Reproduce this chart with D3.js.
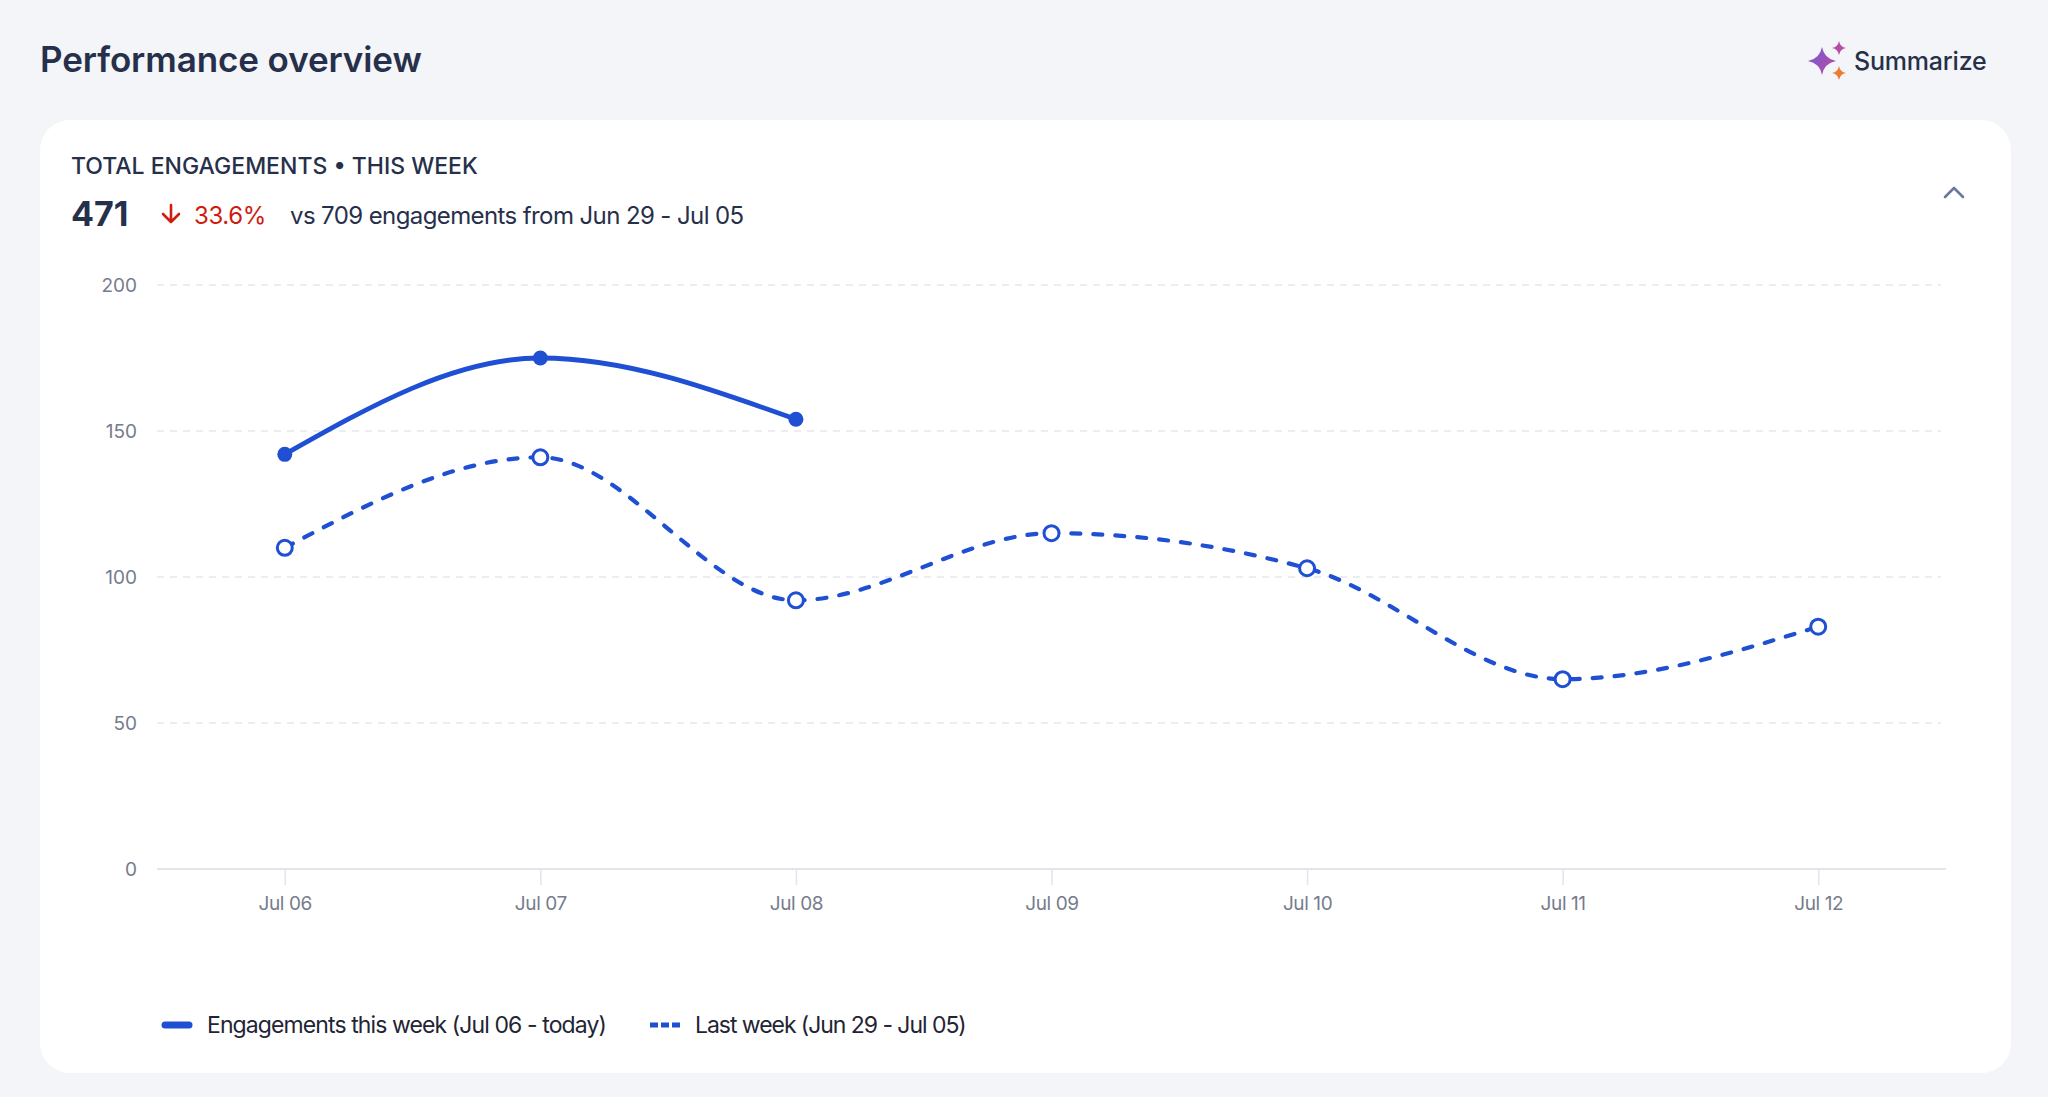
<!DOCTYPE html>
<html>
<head>
<meta charset="utf-8">
<script src="https://cdn.jsdelivr.net/npm/d3@7"></script>
<style>
  html, body { margin: 0; padding: 0; background: #f4f5f9; }
  svg { display: block; }
  text { font-family: Inter, "Noto Sans", sans-serif; }
</style>
</head>
<body>
<svg id="chart" width="2048" height="1097"></svg>
<script>
// ---- data ----
const days = ["Jul 06", "Jul 07", "Jul 08", "Jul 09", "Jul 10", "Jul 11", "Jul 12"];
const thisWeek = [142, 175, 154];
const lastWeek = [110, 141, 92, 115, 103, 65, 83];
const yTicks = [0, 50, 100, 150, 200];
const legendLabels = ["Engagements this week (Jul 06 - today)", "Last week (Jun 29 - Jul 05)"];
const pageTitle = "Performance overview";
const cardTitle = "TOTAL ENGAGEMENTS \u2022 THIS WEEK";
const totalValue = "471";
const changeValue = "33.6%";
const compareText = "vs 709 engagements from Jun 29 - Jul 05";

const BLUE = "#1f4fd3";
const DARK = "#27304a";
const GRAY = "#767c8c";

const svg = d3.select("#chart");
const W = 2048, H = 1097;

svg.append("rect").attr("width", W).attr("height", H).attr("fill", "#f4f5f9");

// page title
svg.append("text").attr("x", 40).attr("y", 72)
  .attr("font-size", 35).attr("font-weight", 600).attr("fill", DARK)
  .attr("letter-spacing", "-0.1").text(pageTitle);

// Summarize button
const defs = svg.append("defs");
const grad = defs.append("linearGradient").attr("id", "sparkGrad")
  .attr("x1", "0%").attr("y1", "0%").attr("x2", "100%").attr("y2", "100%");
grad.append("stop").attr("offset", "0%").attr("stop-color", "#6b5fd8");
grad.append("stop").attr("offset", "100%").attr("stop-color", "#c4469c");

function star(r) {
  const k = r * 0.16;
  return `M0,${-r} Q${k},${-k} ${r},0 Q${k},${k} 0,${r} Q${-k},${k} ${-r},0 Q${-k},${-k} 0,${-r}Z`;
}
svg.append("path").attr("d", star(14)).attr("transform", "translate(1822,61)").attr("fill", "url(#sparkGrad)");
svg.append("path").attr("d", star(7)).attr("transform", "translate(1839,48)").attr("fill", "#b84aa8");
svg.append("path").attr("d", star(7)).attr("transform", "translate(1839,73)").attr("fill", "#ee7b32");
svg.append("text").attr("x", 1854).attr("y", 70)
  .attr("font-size", 25).attr("font-weight", 500).attr("fill", DARK)
  .attr("letter-spacing", "-0.2").text("Summarize");

// card
svg.append("rect").attr("x", 40).attr("y", 120).attr("width", 1971).attr("height", 953)
  .attr("rx", 30).attr("fill", "#ffffff");

// chevron
svg.append("path").attr("d", "M1945,197 L1954,188 L1963,197")
  .attr("fill", "none").attr("stroke", "#6b7899").attr("stroke-width", 2.6)
  .attr("stroke-linecap", "round").attr("stroke-linejoin", "round");

// card header
svg.append("text").attr("x", 71).attr("y", 174)
  .attr("font-size", 23).attr("font-weight", 500).attr("fill", DARK)
  .text(cardTitle);
svg.append("text").attr("x", 71).attr("y", 226)
  .attr("font-size", 34).attr("font-weight", 700).attr("fill", DARK).text(totalValue);
// down arrow
svg.append("path").attr("d", "M171,205 L171,222 M163,214 L171,222 L179,214")
  .attr("fill", "none").attr("stroke", "#cf1b10").attr("stroke-width", 2.6)
  .attr("stroke-linecap", "round").attr("stroke-linejoin", "round");
svg.append("text").attr("x", 194).attr("y", 224)
  .attr("font-size", 24).attr("fill", "#cf1b10").attr("letter-spacing", "-0.4").text(changeValue);
svg.append("text").attr("x", 290).attr("y", 224)
  .attr("font-size", 24).attr("fill", DARK).attr("letter-spacing", "-0.6").text(compareText);

// ---- chart ----
const x = d3.scalePoint().domain(days).range([157, 1946]).padding(0.5);
const y = d3.scaleLinear().domain([0, 200]).range([869, 285]);

const g = svg.append("g");

// grid
g.selectAll(".grid").data(yTicks.filter(d => d > 0)).join("line")
  .attr("x1", 157).attr("x2", 1941)
  .attr("y1", d => y(d)).attr("y2", d => y(d))
  .attr("stroke", "#e5e8ef").attr("stroke-width", 1.5).attr("stroke-dasharray", "7 6");

// y axis labels
const yAxis = d3.axisLeft(y).tickValues(yTicks).tickSize(0).tickPadding(0);
const yg = g.append("g").attr("transform", "translate(137,0)").call(yAxis);
yg.select(".domain").remove();
yg.selectAll("text").attr("font-size", 19).attr("fill", GRAY)
  .attr("font-family", "Inter, sans-serif").attr("dy", "0.35em").attr("x", 0);

// x axis
const xAxis = d3.axisBottom(x).tickSize(16).tickPadding(12);
const xg = g.append("g").attr("transform", "translate(0,869)").call(xAxis);
xg.select(".domain").attr("d", "M157,0H1946").attr("stroke", "#e3e5eb").attr("stroke-width", 2);
xg.selectAll(".tick line").attr("stroke", "#e3e5eb").attr("stroke-width", 1.5);
xg.selectAll(".tick text").attr("font-size", 19).attr("fill", GRAY)
  .attr("font-family", "Inter, sans-serif").attr("letter-spacing", "-0.4");

// lines
const line = d3.line().x((d, i) => x(days[i])).y(d => y(d)).curve(d3.curveMonotoneX);

g.append("path").datum(lastWeek).attr("d", line)
  .attr("fill", "none").attr("stroke", BLUE).attr("stroke-width", 4.2)
  .attr("stroke-dasharray", "9 13").attr("stroke-linecap", "round");
g.append("path").datum(thisWeek).attr("d", line)
  .attr("fill", "none").attr("stroke", BLUE).attr("stroke-width", 4.8)
  .attr("stroke-linecap", "round");

g.selectAll(".lw").data(lastWeek).join("circle")
  .attr("cx", (d, i) => x(days[i])).attr("cy", d => y(d)).attr("r", 7.5)
  .attr("fill", "#fff").attr("stroke", BLUE).attr("stroke-width", 3);
g.selectAll(".tw").data(thisWeek).join("circle")
  .attr("cx", (d, i) => x(days[i])).attr("cy", d => y(d)).attr("r", 7.5)
  .attr("fill", BLUE);

// legend
const lg = svg.append("g").attr("transform", "translate(0,1025)");
lg.append("line").attr("x1", 165).attr("x2", 189).attr("y1", 0).attr("y2", 0)
  .attr("stroke", BLUE).attr("stroke-width", 7).attr("stroke-linecap", "round");
lg.append("text").attr("x", 207).attr("y", 0).attr("dy", "0.35em")
  .attr("font-size", 23).attr("fill", "#1f2534").attr("letter-spacing", "-0.9").text(legendLabels[0]);
lg.append("line").attr("x1", 650).attr("x2", 680).attr("y1", 0).attr("y2", 0)
  .attr("stroke", BLUE).attr("stroke-width", 5).attr("stroke-dasharray", "8 3");
lg.append("text").attr("x", 695).attr("y", 0).attr("dy", "0.35em")
  .attr("font-size", 23).attr("fill", "#1f2534").attr("letter-spacing", "-1.05").text(legendLabels[1]);
</script>
</body>
</html>
